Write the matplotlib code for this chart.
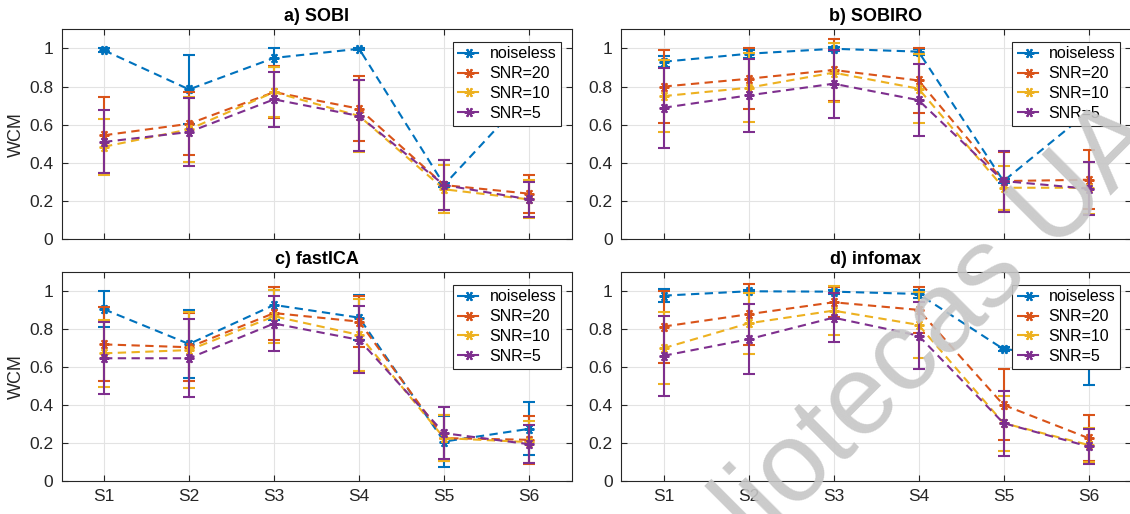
import numpy as np
import matplotlib
matplotlib.use('Agg')
import matplotlib.pyplot as plt

plt.rcParams['font.family'] = ['Liberation Sans', 'DejaVu Sans']

# Data
sources = ['S1', 'S2', 'S3', 'S4', 'S5', 'S6']
series = ['noiseless', 'SNR=20', 'SNR=10', 'SNR=5']
titles = ['a) SOBI', 'b) SOBIRO', 'c) fastICA', 'd) infomax']

sobi_wcm = [[0.99, 0.785, 0.95, 0.998, 0.285, 0.765],
            [0.545, 0.605, 0.771, 0.684, 0.284, 0.239],
            [0.485, 0.576, 0.771, 0.646, 0.262, 0.209],
            [0.51, 0.562, 0.733, 0.646, 0.284, 0.209]]
sobi_err = [[0.01, 0.18, 0.05, 0.005, 0.01, 0.02],
            [0.2, 0.165, 0.135, 0.17, 0.13, 0.1],
            [0.146, 0.17, 0.13, 0.19, 0.125, 0.1],
            [0.165, 0.18, 0.143, 0.186, 0.13, 0.09]]

sobiro_wcm = [[0.93, 0.972, 0.998, 0.983, 0.305, 0.668],
              [0.8, 0.841, 0.887, 0.832, 0.305, 0.312],
              [0.75, 0.794, 0.873, 0.789, 0.27, 0.27],
              [0.689, 0.754, 0.815, 0.729, 0.305, 0.265]]
sobiro_err = [[0.03, 0.02, 0.01, 0.015, 0.01, 0.02],
              [0.19, 0.16, 0.16, 0.17, 0.15, 0.155],
              [0.19, 0.18, 0.155, 0.18, 0.115, 0.135],
              [0.21, 0.19, 0.178, 0.19, 0.16, 0.14]]

fastica_wcm = [[0.905, 0.722, 0.928, 0.861, 0.208, 0.275],
               [0.72, 0.705, 0.885, 0.84, 0.226, 0.217],
               [0.673, 0.69, 0.868, 0.77, 0.226, 0.205],
               [0.647, 0.647, 0.83, 0.744, 0.252, 0.194]]
fastica_err = [[0.095, 0.177, 0.08, 0.12, 0.135, 0.14],
               [0.195, 0.18, 0.14, 0.135, 0.12, 0.125],
               [0.175, 0.2, 0.14, 0.19, 0.12, 0.11],
               [0.19, 0.205, 0.145, 0.177, 0.137, 0.1]]

infomax_wcm = [[0.977, 1.0, 0.998, 0.986, 0.695, 0.655],
               [0.814, 0.879, 0.942, 0.902, 0.401, 0.226],
               [0.70, 0.831, 0.898, 0.823, 0.305, 0.19],
               [0.66, 0.747, 0.861, 0.766, 0.305, 0.182]]
infomax_err = [[0.035, 0.005, 0.01, 0.02, 0.01, 0.15],
               [0.19, 0.16, 0.08, 0.12, 0.187, 0.12],
               [0.19, 0.16, 0.13, 0.175, 0.145, 0.09],
               [0.21, 0.185, 0.13, 0.175, 0.172, 0.093]]

panels = [(sobi_wcm, sobi_err), (sobiro_wcm, sobiro_err),
          (fastica_wcm, fastica_err), (infomax_wcm, infomax_err)]

colors = ['#0072BD', '#D95319', '#EDB120', '#7E2F8E']
axc = '#262626'

fig = plt.figure(figsize=(11.3, 5.14), dpi=100)
W, H = 1130, 514
# axes boxes in pixels: left, top, right, bottom
boxes = [(61.5, 29.3, 571.7, 239.3), (621, 29.3, 1131, 239.3),
         (61.5, 272.3, 571.7, 481), (621, 272.3, 1131, 481)]

x = np.arange(1, len(sources) + 1)
for k, (wcm, err) in enumerate(panels):
    l, t, r, b = boxes[k]
    ax = fig.add_axes([l / W, 1 - b / H, (r - l) / W, (b - t) / H])
    handles = []
    for i in range(len(series)):
        c = ax.errorbar(x, wcm[i], yerr=err[i], color=colors[i], ls='--',
                        dashes=(4, 2.6), lw=1.5, elinewidth=1.5, capsize=4.5,
                        capthick=1.5, marker=(6, 2, 90), ms=7, mew=1.5,
                        zorder=3 + i)
        handles.append(c[0])
    ax.set_xlim(0.5, 6.5)
    ax.set_ylim(0, 1.1)
    ax.set_yticks([0, 0.2, 0.4, 0.6, 0.8, 1])
    ax.set_yticklabels(['0', '0.2', '0.4', '0.6', '0.8', '1'])
    ax.set_xticks(x)
    if k >= 2:
        ax.set_xticklabels(sources)
    else:
        ax.set_xticklabels([])
    if k % 2 == 0:
        ax.set_ylabel('WCM', fontsize=13, color=axc, labelpad=3)
    ax.grid(True, color='#e3e3e3', lw=0.8, zorder=0)
    ax.set_axisbelow(True)
    ax.tick_params(direction='in', top=True, right=True, length=4,
                   width=0.8, colors=axc, labelsize=12.5, pad=6)
    for s in ax.spines.values():
        s.set_color(axc)
        s.set_linewidth(0.8)
    ax.set_title(titles[k], fontsize=13, fontweight='bold', color='black', pad=6)
    leg = ax.legend(handles, series, loc='upper right',
                    bbox_to_anchor=(0.979, 0.941), borderaxespad=0,
                    fontsize=11.5, fancybox=False, framealpha=1,
                    edgecolor=axc, handlelength=1.5, handletextpad=0.5,
                    labelspacing=0.3, borderpad=0.3)
    leg.get_frame().set_linewidth(0.8)
    leg.set_zorder(20)

# watermark (runs off the bottom-left edge as in the reference)
fig.text(641, -151, 'Bibliotecas UA', transform=None, fontsize=82,
         color='#c6c6c6', alpha=0.9, rotation=45, rotation_mode='anchor',
         ha='left', va='baseline', zorder=50)

fig.savefig('out.png', dpi=100)
